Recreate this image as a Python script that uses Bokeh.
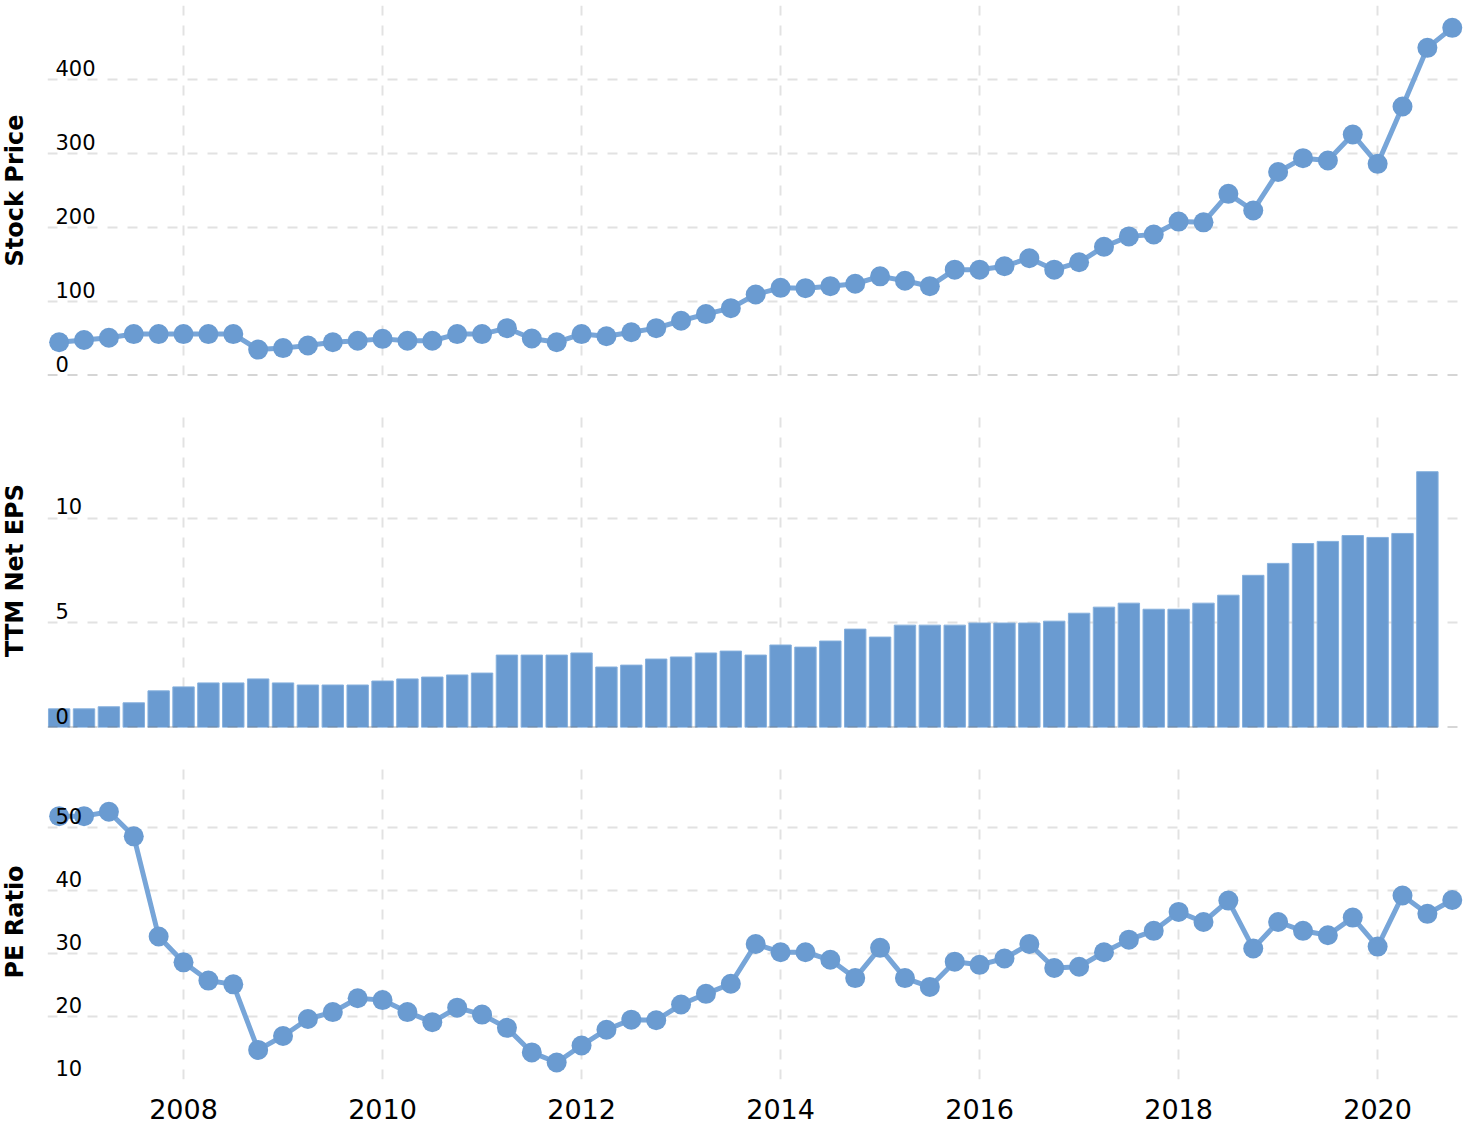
import math
from bokeh.plotting import figure
from bokeh.layouts import column, row
from bokeh.models import FixedTicker, Span, ColumnDataSource
from bokeh.core.properties import value
from bokeh.embed import file_html
from bokeh.resources import INLINE

# Quarter-end dates (year, month)
quarters = [
    "2006-09", "2006-12", "2007-03", "2007-06", "2007-09", "2007-12", "2008-03", "2008-06",
    "2008-09", "2008-12", "2009-03", "2009-06", "2009-09", "2009-12", "2010-03", "2010-06",
    "2010-09", "2010-12", "2011-03", "2011-06", "2011-09", "2011-12", "2012-03", "2012-06",
    "2012-09", "2012-12", "2013-03", "2013-06", "2013-09", "2013-12", "2014-03", "2014-06",
    "2014-09", "2014-12", "2015-03", "2015-06", "2015-09", "2015-12", "2016-03", "2016-06",
    "2016-09", "2016-12", "2017-03", "2017-06", "2017-09", "2017-12", "2018-03", "2018-06",
    "2018-09", "2018-12", "2019-03", "2019-06", "2019-09", "2019-12", "2020-03", "2020-06",
    "2020-09",
]

stock_price = [45, 48, 51, 56, 56, 56, 56, 56, 35, 37, 40.5, 45, 47, 49.5, 47, 47,
               56, 56, 64, 50, 45, 56, 53, 58.5, 64, 74, 83, 91, 109.5, 118.5, 118, 120.7,
               124, 134, 128, 120.7, 143, 143, 147.7, 158.5, 143, 153, 174, 188, 190.5, 208,
               207, 245.5, 223, 275, 293.7, 290.5, 325.7, 286, 363.5, 442.8, 469.8]

ttm_eps = [0.89, 0.89, 0.99, 1.18, 1.75, 1.94, 2.13, 2.13, 2.32, 2.13, 2.03, 2.03, 2.03, 2.22,
           2.32, 2.41, 2.51, 2.60, 3.46, 3.46, 3.46, 3.56, 2.89, 2.98, 3.27, 3.37, 3.56, 3.65,
           3.46, 3.94, 3.84, 4.13, 4.70, 4.32, 4.89, 4.89, 4.89, 4.99, 4.99, 4.99, 5.08, 5.46,
           5.75, 5.94, 5.65, 5.65, 5.94, 6.32, 7.27, 7.84, 8.79, 8.89, 9.17, 9.08, 9.27, 12.22]

pe_ratio = [51.8, 51.8, 52.5, 48.6, 32.7, 28.6, 25.7, 25.1, 14.7, 16.9, 19.6, 20.7, 22.9, 22.6,
            20.7, 19.1, 21.4, 20.3, 18.2, 14.3, 12.7, 15.4, 17.9, 19.5, 19.4, 21.9, 23.6, 25.2,
            31.5, 30.2, 30.2, 29.0, 26.1, 30.9, 26.1, 24.7, 28.7, 28.2, 29.2, 31.5, 27.7, 27.9,
            30.2, 32.2, 33.6, 36.6, 35.0, 38.4, 30.8, 35.0, 33.6, 32.9, 35.7, 31.1, 39.2, 36.3,
            38.5]

panel_titles = ["Stock Price", "TTM Net EPS", "PE Ratio"]
year_ticks = [2008, 2010, 2012, 2014, 2016, 2018, 2020]
price_ticks = [0, 100, 200, 300, 400, 500]
price_labels = ["0", "100", "200", "300", "400"]
eps_ticks = [0, 5, 10, 15]
eps_labels = ["0", "5", "10"]
pe_ticks = [10, 20, 30, 40, 50, 60]
pe_labels = ["10", "20", "30", "40", "50"]

xq = [int(q[:4]) + int(q[5:7]) / 12.0 for q in quarters]

X0, X1 = 2006.633, 2020.873
FW = 1417
LEFT = 47
TOTAL_H = 1128
BLUE = "#6a9bd1"
LINE = "#77a5d8"
GRID = "#e2e2e2"
FONT = "DejaVu Sans"

# panel geometry: (border top, frame height, border bottom)
geo = [(5, 370, 3), (35, 314, 3), (34, 315, 49)]


def base(g, ylo, yhi, yticks, show_x=False):
    top, fh, bottom = g
    p = figure(frame_width=FW, frame_height=fh, x_range=(X0, X1), y_range=(ylo, yhi),
               output_backend="svg", toolbar_location=None, y_axis_location=None,
               min_border_left=0, min_border_right=0, min_border_top=top,
               min_border_bottom=bottom)
    p.outline_line_color = None
    p.background_fill_color = "white"
    p.border_fill_color = "white"
    p.xgrid.ticker = FixedTicker(ticks=year_ticks)
    p.ygrid.ticker = FixedTicker(ticks=yticks)
    for gr in (p.xgrid, p.ygrid):
        gr.grid_line_color = GRID
        gr.grid_line_width = 2
        gr.grid_line_dash = "10 10"
    p.xaxis.ticker = FixedTicker(ticks=year_ticks)
    p.xaxis.axis_line_color = None
    p.xaxis.major_tick_line_color = None
    p.xaxis.minor_tick_line_color = None
    p.xaxis.major_tick_out = 0
    p.xaxis.minor_tick_out = 0
    p.xaxis.major_label_text_font = FONT
    p.xaxis.major_label_text_font_size = "27px"
    p.xaxis.major_label_text_color = "#000000"
    p.xaxis.major_label_standoff = 19
    p.xaxis.visible = show_x
    return p


def ylabels(p, ticks, labels):
    src = ColumnDataSource(dict(x=[X0] * len(labels), y=ticks[:len(labels)], t=labels))
    p.text(x="x", y="y", text="t", source=src, x_offset=8, y_offset=-12,
           text_baseline="alphabetic", text_align="left",
           text_font=value(FONT), text_font_size="21px", text_color="#000000")


# --- Stock price ---
p1 = base(geo[0], 0, 500, price_ticks)
p1.line(xq, stock_price, line_color=LINE, line_width=5)
p1.scatter(xq, stock_price, size=20, fill_color=BLUE, line_color=None)
p1.add_layout(Span(location=0, dimension="width", line_color="#8a8a8a", line_alpha=0.7,
                   line_width=2, line_dash="10 10"))
ylabels(p1, price_ticks, price_labels)

# --- TTM Net EPS ---
p2 = base(geo[1], 0, 15, eps_ticks)
p2.vbar(x=xq[:len(ttm_eps)], top=ttm_eps, width=0.215, bottom=0,
        fill_color=BLUE, line_color="#86b0dd", line_width=1)
p2.add_layout(Span(location=0, dimension="width", line_color="#7a7a7a", line_alpha=0.6,
                   line_width=2, line_dash="10 10"))
ylabels(p2, eps_ticks, eps_labels)

# --- PE Ratio ---
p3 = base(geo[2], 10, 60, pe_ticks, show_x=True)
p3.line(xq, pe_ratio, line_color=LINE, line_width=5)
p3.scatter(xq, pe_ratio, size=20, fill_color=BLUE, line_color=None)
ylabels(p3, pe_ticks, pe_labels)

# --- left strip holding the vertical panel titles ---
centers = []
acc = 0
for top, fh, bottom in geo:
    centers.append(acc + top + fh / 2.0)
    acc += top + fh + bottom

t = figure(frame_width=LEFT, frame_height=TOTAL_H, x_range=(0, LEFT), y_range=(TOTAL_H, 0),
           output_backend="svg", toolbar_location=None, x_axis_location=None,
           y_axis_location=None, min_border=0)
t.outline_line_color = None
t.xgrid.visible = False
t.ygrid.visible = False
t.text(x=[14] * 3, y=centers, text=panel_titles, angle=math.pi / 2,
       text_align="center", text_baseline="middle", text_font=value(FONT),
       text_font_style="bold", text_font_size="24px", text_color="#000000")

layout = row(t, column(p1, p2, p3, spacing=0), spacing=0)
open("out.html", "w").write(file_html(layout, INLINE))
